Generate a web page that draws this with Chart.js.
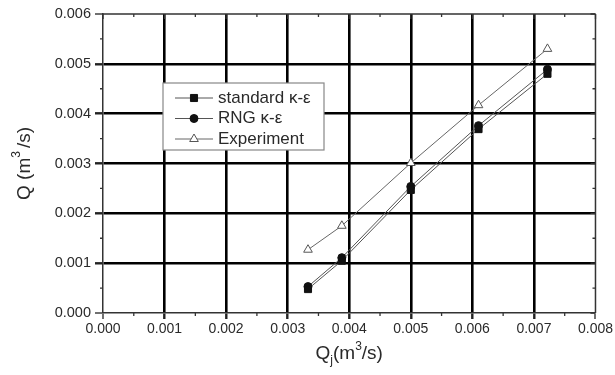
<!DOCTYPE html>
<html>
<head>
<meta charset="utf-8">
<script src="https://cdn.jsdelivr.net/npm/chart.js@4.4.1/dist/chart.umd.min.js"></script>
<style>
  html, body { margin:0; padding:0; background:#fff; }
  #wrap { width:615px; height:375px; }
</style>
</head>
<body>
<div id="wrap"><canvas id="chart" width="615" height="375"></canvas></div>
<script>
// ---- data ----
const qj         = [0.00333, 0.00388, 0.00500, 0.00610, 0.00722];
const standardKE = [0.00048, 0.00105, 0.00247, 0.00369, 0.00480];
const rngKE      = [0.00053, 0.00111, 0.00254, 0.00376, 0.00489];
const experiment = [0.00127, 0.00175, 0.00301, 0.00417, 0.00530];

const seriesNames = ["standard \u03BA-\u03B5", "RNG \u03BA-\u03B5", "Experiment"];

const xMin = 0, xMax = 0.008, xStep = 0.001;
const yMin = 0, yMax = 0.006, yStep = 0.001;

const FONT = "'Liberation Sans', Arial, sans-serif";

function pts(ys){ return qj.map((x,i)=>({x:x, y:ys[i]})); }

function isEdge(ctx, max){
    const v = ctx.tick ? ctx.tick.value : 0;
    return Math.abs(v) < 1e-9 || Math.abs(v - max) < 1e-9;
}

// frame, minor ticks, axis titles
const framePlugin = {
    id:"frame",
    afterDraw(chart){
        const c = chart.ctx, a = chart.chartArea;
        const xs = chart.scales.x, ys = chart.scales.y;
        c.save();
        c.strokeStyle = "#333";
        c.lineWidth = 1.5;
        c.beginPath();
        c.moveTo(a.left, a.top); c.lineTo(a.right, a.top);
        c.moveTo(a.right, a.top); c.lineTo(a.right, a.bottom);
        c.stroke();

        c.lineWidth = 1.3;
        c.beginPath();
        for (let v = xMin; v <= xMax + 1e-9; v += xStep/2){
            const px = xs.getPixelForValue(v);
            const major = Math.abs(Math.round(v/xStep)*xStep - v) < 1e-9;
            const len = major ? 5 : 3;
            if (!major){ c.moveTo(px, a.bottom); c.lineTo(px, a.bottom + len); }
            c.moveTo(px, a.top); c.lineTo(px, a.top + len);
        }
        for (let v = yMin; v <= yMax + 1e-9; v += yStep/2){
            const py = ys.getPixelForValue(v);
            const major = Math.abs(Math.round(v/yStep)*yStep - v) < 1e-9;
            const len = major ? 5 : 3;
            if (!major){ c.moveTo(a.left, py); c.lineTo(a.left - len, py); }
            c.moveTo(a.right, py); c.lineTo(a.right - len, py);
        }
        c.stroke();

        // axis titles
        c.fillStyle = "#2a2a2a";
        c.textBaseline = "alphabetic";
        c.textAlign = "left";
        const big = "19px " + FONT, small = "12px " + FONT;
        // x title: Qj(m3/s)
        const cx = (a.left + a.right)/2, by = 359;
        c.font = big;   const w1 = c.measureText("Q").width;
        c.font = small; const wj = c.measureText("j").width;
        c.font = big;   const w2 = c.measureText("(m").width;
        c.font = small; const w3 = c.measureText("3").width;
        c.font = big;   const w4 = c.measureText("/s)").width;
        let x0 = cx - (w1 + wj + w2 + w3 + w4)/2;
        c.font = big;   c.fillText("Q", x0, by); x0 += w1;
        c.font = small; c.fillText("j", x0, by + 5); x0 += wj;
        c.font = big;   c.fillText("(m", x0, by); x0 += w2;
        c.font = small; c.fillText("3", x0, by - 9); x0 += w3;
        c.font = big;   c.fillText("/s)", x0, by);

        // y title: Q (m3/s)
        c.save();
        c.translate(30, (a.top + a.bottom)/2);
        c.rotate(-Math.PI/2);
        c.font = big;   const t1 = c.measureText("Q (m").width;
        c.font = small; const t2 = c.measureText("3").width + 3;
        c.font = big;   const t3 = c.measureText("/s)").width;
        let y0 = -(t1 + t2 + t3)/2;
        c.font = big;   c.fillText("Q (m", y0, 0); y0 += t1;
        c.font = small; c.fillText("3", y0, -10); y0 += t2;
        c.font = big;   c.fillText("/s)", y0, 0);
        c.restore();
        c.restore();
    }
};

// legend box inside plot
const boxLegend = {
    id:"boxLegend",
    afterDatasetsDraw(chart){
        const c = chart.ctx, a = chart.chartArea;
        const left = a.left + 60, top = a.top + 69, w = 161, h = 67;
        c.save();
        c.fillStyle = "#fff";
        c.fillRect(left, top, w, h);
        c.strokeStyle = "#888";
        c.lineWidth = 1.2;
        c.strokeRect(left, top, w, h);
        chart.data.datasets.forEach((ds, i) => {
            const yy = top + 15 + i*20.5;
            c.strokeStyle = ds.borderColor;
            c.lineWidth = 1;
            c.beginPath();
            c.moveTo(left + 12, yy); c.lineTo(left + 50, yy);
            c.stroke();
            c.fillStyle = ds.pointBackgroundColor;
            c.strokeStyle = ds.pointBorderColor;
            c.lineWidth = ds.pointBorderWidth;
            Chart.helpers.drawPoint(c, {
                pointStyle: ds.pointStyle,
                radius: ds.pointRadius,
                rotation: 0,
                borderWidth: ds.pointBorderWidth
            }, left + 31, yy);
            c.fillStyle = "#2a2a2a";
            c.font = "17px " + FONT;
            c.textAlign = "left";
            c.textBaseline = "middle";
            c.fillText(ds.label, left + 55, yy);
        });
        c.restore();
    }
};

const ctx = document.getElementById("chart").getContext("2d");
new Chart(ctx, {
    type:"scatter",
    data:{
        datasets:[
            {
                label: seriesNames[0],
                data: pts(standardKE),
                showLine:true,
                borderColor:"#555",
                borderWidth:1,
                pointStyle:"rect",
                pointRadius:5,
                pointBackgroundColor:"#111",
                pointBorderColor:"#111",
                pointBorderWidth:1
            },
            {
                label: seriesNames[1],
                data: pts(rngKE),
                showLine:true,
                borderColor:"#555",
                borderWidth:1,
                pointStyle:"circle",
                pointRadius:4,
                pointBackgroundColor:"#111",
                pointBorderColor:"#111",
                pointBorderWidth:1
            },
            {
                label: seriesNames[2],
                data: pts(experiment),
                showLine:true,
                borderColor:"#666",
                borderWidth:1,
                pointStyle:"triangle",
                pointRadius:5,
                pointBackgroundColor:"#fff",
                pointBorderColor:"#555",
                pointBorderWidth:1
            }
        ]
    },
    options:{
        animation:false,
        responsive:false,
        layout:{ padding:{ left:0, right:18, top:14, bottom:0 } },
        scales:{
            x:{
                type:"linear",
                min:xMin, max:xMax,
                afterFit: s => { s.height = 62; },
                ticks:{
                    stepSize:xStep,
                    color:"#2a2a2a",
                    font:{ family:FONT, size:14 },
                    padding:2,
                    maxRotation:0,
                    callback: v => v.toFixed(3)
                },
                grid:{
                    color:"#000",
                    lineWidth: c => isEdge(c, xMax) ? 0 : 2.6,
                    tickLength:6,
                    tickColor:"#222",
                    tickWidth: c => isEdge(c, xMax) ? 1.3 : 2.4
                },
                border:{ display:true, color:"#333", width:1.5 }
            },
            y:{
                type:"linear",
                min:yMin, max:yMax,
                afterFit: s => { s.width = 103; },
                ticks:{
                    stepSize:yStep,
                    color:"#2a2a2a",
                    font:{ family:FONT, size:14.5 },
                    padding:4,
                    callback: v => v.toFixed(3)
                },
                grid:{
                    color:"#000",
                    lineWidth: c => isEdge(c, yMax) ? 0 : 2.6,
                    tickLength:8,
                    tickColor:"#222",
                    tickWidth: c => isEdge(c, yMax) ? 1.3 : 2.4
                },
                border:{ display:true, color:"#333", width:1.5 }
            }
        },
        plugins:{
            legend:{ display:false },
            tooltip:{ enabled:false }
        }
    },
    plugins:[boxLegend, framePlugin]
});
</script>
</body>
</html>
